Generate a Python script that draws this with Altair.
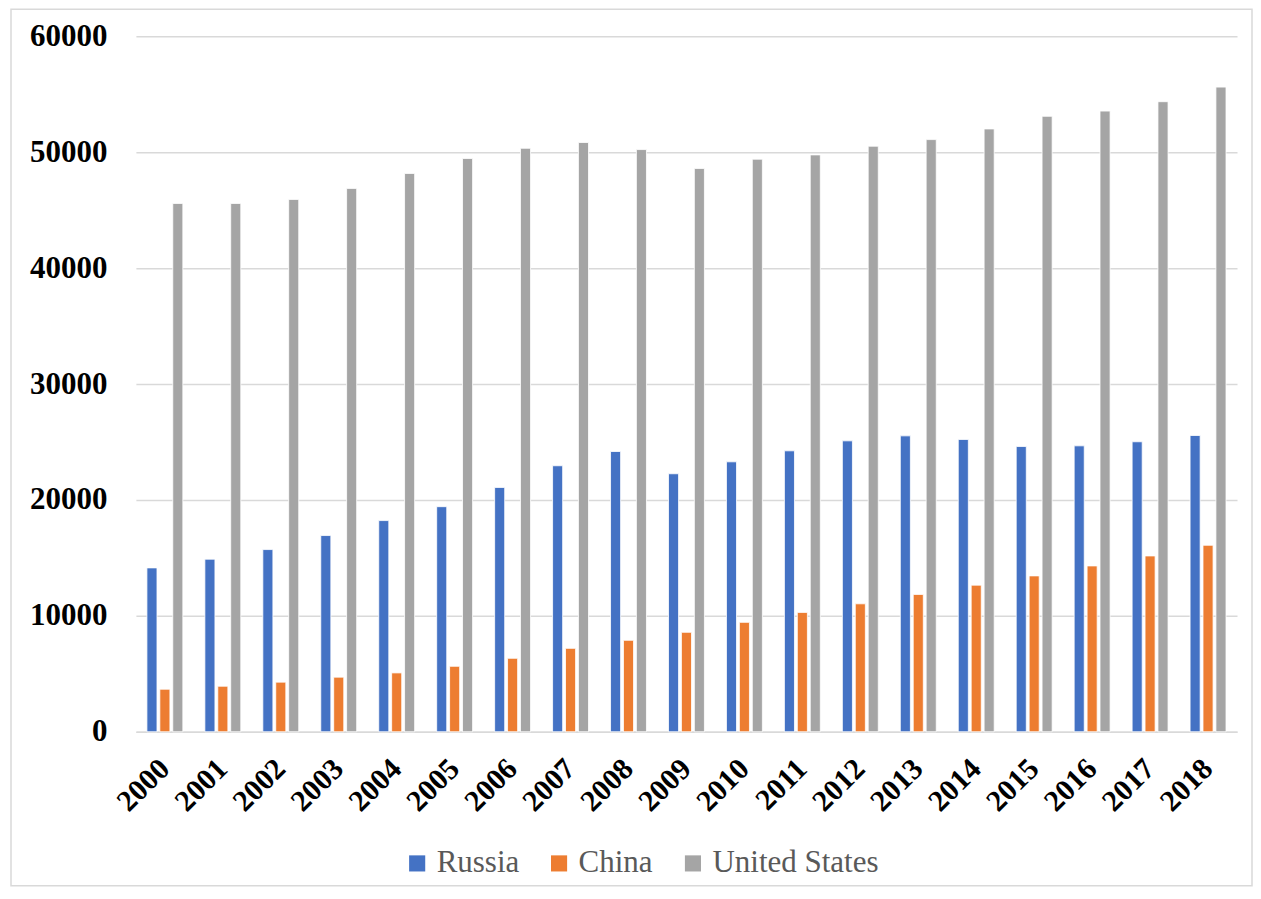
import altair as alt
import pandas as pd

years = [str(y) for y in range(2000, 2019)]
russia = [14140, 14890, 15720, 16930, 18220, 19420, 21080, 22950, 24180, 22260,
          23290, 24240, 25100, 25530, 25220, 24610, 24670, 25020, 25560]
china = [3670, 3930, 4280, 4710, 5080, 5650, 6340, 7200, 7890, 8580,
         9440, 10300, 11040, 11850, 12650, 13450, 14310, 15170, 16090]
usa = [45580, 45580, 45930, 46880, 48170, 49460, 50340, 50840, 50230, 48600,
       49400, 49770, 50520, 51090, 52010, 53100, 53550, 54360, 55620]
series = ["Russia", "China", "United States"]
colors = ["#4472C4", "#ED7D31", "#A5A5A5"]
y_ticks = [0, 10000, 20000, 30000, 40000, 50000, 60000]

rows = []
for name, vals in zip(series, [russia, china, usa]):
    for yr, v in zip(years, vals):
        rows.append({"Year": yr, "Country": name, "Value": v})
df = pd.DataFrame(rows)

FONT = "Liberation Serif"

bars = alt.Chart(df).mark_bar(stroke="white", strokeWidth=0.8).encode(
    x=alt.X("Year:N", sort=years,
            scale=alt.Scale(paddingInner=0.38, paddingOuter=0.19),
            axis=alt.Axis(title=None, labelAngle=-45, labelAlign="right",
                          labelBaseline="middle", labelFont=FONT,
                          labelFontSize=30, labelFontWeight="bold",
                          labelColor="black", labelPadding=32, ticks=False,
                          domainColor="#D9D9D9", domainWidth=1.5, grid=False)),
    xOffset=alt.XOffset("Country:N", sort=series,
                        scale=alt.Scale(paddingInner=0.22, paddingOuter=0)),
    y=alt.Y("Value:Q", scale=alt.Scale(domain=[0, 60000], nice=False),
            axis=alt.Axis(title=None, values=y_ticks, format="d",
                          labelFont=FONT, labelFontSize=31,
                          labelFontWeight="bold", labelColor="black",
                          labelPadding=29, ticks=False, domain=False,
                          gridColor="#D9D9D9", gridWidth=1.5)),
    color=alt.Color("Country:N", sort=series,
                    scale=alt.Scale(domain=series, range=colors),
                    legend=alt.Legend(title=None, orient="none", direction="horizontal",
                                      legendX=266, legendY=812,
                                      symbolType="square", symbolSize=260,
                                      symbolStrokeWidth=0, labelFont=FONT,
                                      labelFontSize=31, labelColor="#595959",
                                      labelOffset=4, columnPadding=24,
                                      labelLimit=400)),
)

frame = alt.Chart(pd.DataFrame({"a": [0]})).mark_rect(
    filled=False, stroke="#D9D9D9", strokeWidth=1.5
).encode(
    x=alt.value(-125), x2=alt.value(1117),
    y=alt.value(-27), y2=alt.value(850),
)

chart = alt.layer(frame, bars).properties(
    width=1102, height=696,
    padding={"left": 2, "top": 0, "right": 0, "bottom": 0},
).configure_view(stroke=None)

chart.save("out.html", embed_options={"renderer": "svg", "actions": False})
